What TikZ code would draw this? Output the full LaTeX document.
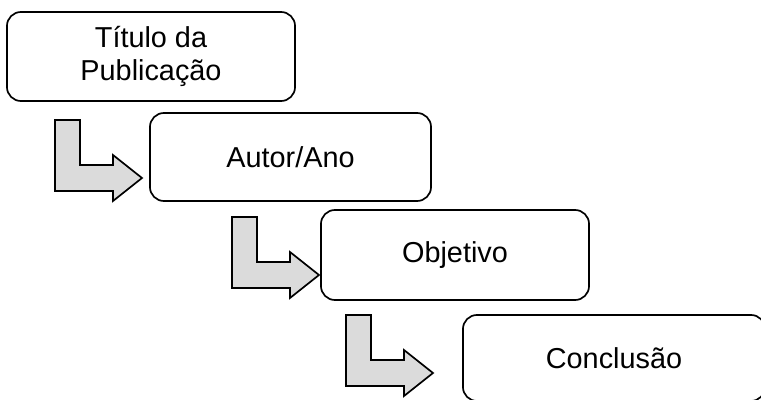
\documentclass[tikz,border=0pt]{standalone}
\usepackage{fontspec}
\setmainfont{Liberation Sans}
\usetikzlibrary{calc, positioning}

\begin{document}
\begin{tikzpicture}[x=0.025cm, y=-0.025cm,
  box/.style={draw, line width=1.2pt, rounded corners=0.35cm, align=center, inner sep=2pt, font=\fontsize{20.5}{24}\selectfont},
  bent/.style={draw, line width=1.2pt, fill=gray!28}]
\useasboundingbox (0,0) rectangle (761,400);
\clip (0,0) rectangle (761,400);
\node[box, minimum width=7.2cm, minimum height=2.225cm] (titulo) at (151,56.5) {Título da\\Publicação};
\node[box, minimum width=7.025cm, minimum height=2.2cm] (autor) at (290.5,157) {Autor/Ano};
\node[box, minimum width=6.7cm, minimum height=2.25cm] (objetivo) at (455,255) {Objetivo};
\node[box, minimum width=7.55cm, minimum height=2.15cm] (conclusao) at (614,358) {Conclusão};
\foreach \ax/\ay in {55/120, 232/217, 346/315}
  \draw[bent] (\ax,\ay) -- ++(25,0) -- ++(0,45) -- ++(33,0) -- ++(0,-10) -- ++(29,23)
    -- ++(-29,23) -- ++(0,-10) -- ++(-58,0) -- cycle;
\end{tikzpicture}
\end{document}
